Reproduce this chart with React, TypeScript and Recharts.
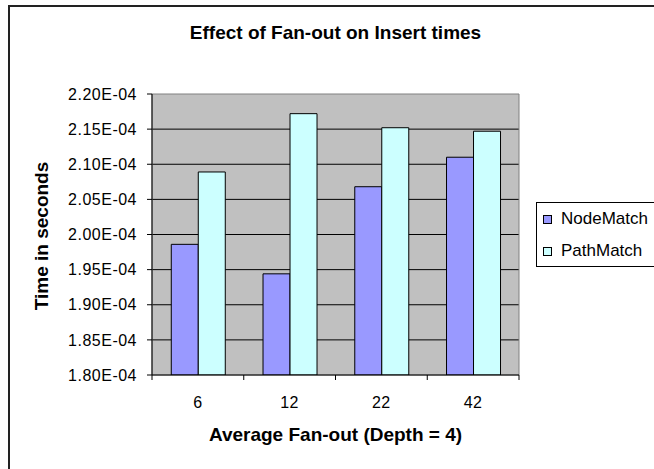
import { BarChart, Bar, XAxis, YAxis, CartesianGrid, Legend, ReferenceArea } from 'recharts'

const fanouts = ['6', '12', '22', '42']
const nodeMatch = [1.986e-4, 1.944e-4, 2.068e-4, 2.11e-4]
const pathMatch = [2.089e-4, 2.172e-4, 2.152e-4, 2.147e-4]
const yTicks = [1.8e-4, 1.85e-4, 1.9e-4, 1.95e-4, 2.0e-4, 2.05e-4, 2.1e-4, 2.15e-4, 2.2e-4]

const data = fanouts.map((f, i) => ({ fanout: f, NodeMatch: nodeMatch[i], PathMatch: pathMatch[i] }))

const series = [
  { key: 'NodeMatch', color: '#9999ff' },
  { key: 'PathMatch', color: '#ccffff' },
]

const font = 'Arial, "Liberation Sans", sans-serif'

function sci(v: number) {
  const [m, e] = v.toExponential(2).split('e')
  const n = Math.abs(parseInt(e, 10))
  return `${m}E${e[0] === '-' ? '-' : '+'}${String(n).padStart(2, '0')}`
}

// labels under the bars, tick marks on the category boundaries like Excel
function XTick(props: any) {
  const { x, y, payload, index } = props
  const half = payload?.offset || 45.875
  return (
    <g>
      <line x1={x - half} y1={y} x2={x - half} y2={y + 5} stroke="#000" />
      {index === fanouts.length - 1 && (
        <line x1={x + half} y1={y} x2={x + half} y2={y + 5} stroke="#000" />
      )}
      <text x={x} y={y + 33} textAnchor="middle" fontSize={16} letterSpacing={0.5} fontFamily={font} fill="#000">
        {payload.value}
      </text>
    </g>
  )
}

function LegendBox() {
  return (
    <div
      style={{
        width: 130,
        height: 65,
        border: '1px solid #000',
        background: '#fff',
        fontFamily: font,
        fontSize: 17,
        boxSizing: 'border-box',
        padding: '6px 0 0 6px',
      }}
    >
      {series.map((s, i) => (
        <div key={s.key} style={{ display: 'flex', alignItems: 'center', height: 20, marginTop: i ? 12 : 0 }}>
          <span
            style={{ width: 7, height: 7, background: s.color, border: '1px solid #000', marginRight: 9 }}
          />
          <span>{s.key}</span>
        </div>
      ))}
    </div>
  )
}

const titleStyle = {
  position: 'absolute' as const,
  fontFamily: font,
  fontWeight: 'bold' as const,
  fontSize: 19,
  whiteSpace: 'nowrap' as const,
}

export default function App() {
  return (
    <div style={{ position: 'absolute', left: 0, top: 0, width: 654, height: 469, background: '#fff', overflow: 'hidden' }}>
      <div
        style={{
          position: 'absolute',
          left: 8,
          top: 5,
          width: 700,
          height: 500,
          borderLeft: '2px solid #222',
          borderTop: '2px solid #222',
        }}
      />
      <div style={{ ...titleStyle, left: 152, top: 22, width: 367, textAlign: 'center' }}>
        Effect of Fan-out on Insert times
      </div>
      <div style={{ ...titleStyle, left: 42, top: 236, transform: 'translate(-50%, -50%) rotate(-90deg)' }}>
        Time in seconds
      </div>
      <div style={{ ...titleStyle, left: 152, top: 424, width: 367, textAlign: 'center' }}>
        Average Fan-out (Depth = 4)
      </div>
      <div style={{ position: 'absolute', left: 0, top: 0 }}>
        <BarChart
          width={654}
          height={469}
          data={data}
          margin={{ top: 94, right: 135, bottom: 64, left: 42 }}
          barCategoryGap="21%"
          barGap={0}
        >
          <CartesianGrid
            vertical={false}
            horizontalValues={yTicks.slice(1, -1)}
            stroke="#000"
            fill="#c0c0c0"
            fillOpacity={1}
          />
          <ReferenceArea y1={1.8e-4} y2={2.2e-4} fill="none" fillOpacity={0} stroke="#808080" />
          <XAxis
            dataKey="fanout"
            height={30}
            tickLine={false}
            tickSize={0}
            tickMargin={0}
            axisLine={{ stroke: '#000' }}
            tick={<XTick />}
            interval={0}
          />
          <YAxis
            width={110}
            domain={[1.8e-4, 2.2e-4]}
            ticks={yTicks}
            allowDataOverflow
            tickFormatter={sci}
            tickSize={5}
            tickMargin={10}
            axisLine={{ stroke: '#000' }}
            tickLine={{ stroke: '#000' }}
            tick={{ fill: '#000', fontSize: 16, letterSpacing: 0.5, fontFamily: font }}
          />
          <Legend
            layout="horizontal"
            align="center"
            verticalAlign="middle"
            wrapperStyle={{ position: 'absolute', left: 536, top: 202, width: 130 }}
            content={() => <LegendBox />}
          />
          {series.map((s) => (
            <Bar key={s.key} dataKey={s.key} fill={s.color} stroke="#000" strokeWidth={1} isAnimationActive={false} />
          ))}
        </BarChart>
      </div>
    </div>
  )
}
